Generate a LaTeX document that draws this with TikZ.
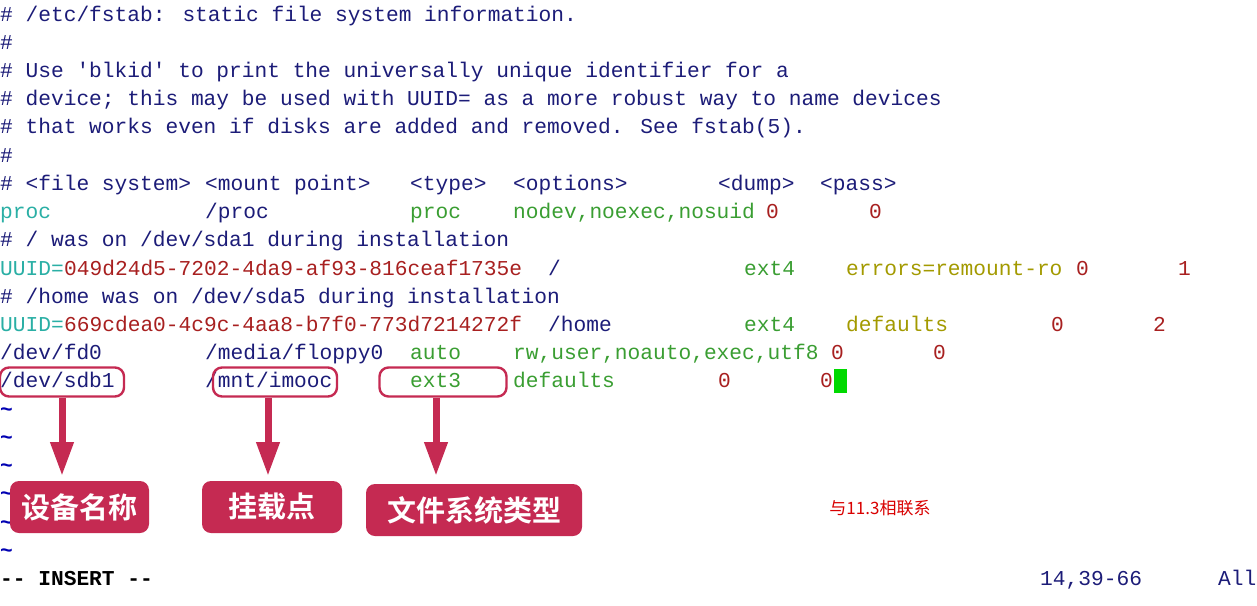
\documentclass[tikz,border=0pt]{standalone}
\usepackage{fontspec}
\usetikzlibrary{arrows.meta}
\newfontfamily\mono[WordSpace={1,0,0}]{Liberation Mono}
\newfontfamily\monob[WordSpace={1,0,0}]{Liberation Mono Bold}
\newfontfamily\cjk[BoldFont={Noto Sans CJK SC Bold}]{Noto Sans CJK SC}
\definecolor{nv}{HTML}{1C1C78}
\definecolor{tl}{HTML}{2AAFA5}
\definecolor{gr}{HTML}{3A9E32}
\definecolor{rd}{HTML}{A82020}
\definecolor{ol}{HTML}{A39A00}
\definecolor{cr}{HTML}{C52A52}
\newcounter{segc}
\newcommand{\seg}[4]{\stepcounter{segc}\node[txt,text=#3] (s\arabic{segc}) at (#1,{-(21+28.23*#2)}) {#4};}
\begin{document}
\begin{tikzpicture}[x=1pt,y=1pt,
  txt/.style={anchor=base west,inner sep=0,font=\mono\fontsize{21.2}{24}\selectfont},
  ring/.style={draw=cr,line width=2.4pt,rounded corners=9pt,minimum height=29pt,inner sep=0},
  lab/.style={fill=cr,rounded corners=9pt,text=white,font=\cjk\bfseries\fontsize{29}{32}\selectfont,inner sep=0,minimum height=52pt},
  arr/.style={draw=cr,line width=7pt,-{Triangle[width=22pt,length=34pt]}}]
\useasboundingbox[fill=white] (0,0) rectangle (1257,-605);
\seg{0}{0}{nv}{\# /etc/fstab: static file system information.}
\seg{0}{1}{nv}{\#}
\seg{0}{2}{nv}{\# Use 'blkid' to print the universally unique identifier for a}
\seg{0}{3}{nv}{\# device; this may be used with UUID= as a more robust way to name devices}
\seg{0}{4}{nv}{\# that works even if disks are added and removed. See fstab(5).}
\seg{0}{5}{nv}{\#}
\seg{0}{6}{nv}{\# <file system>}
\seg{205}{6}{nv}{<mount point>}
\seg{410}{6}{nv}{<type>}
\seg{513}{6}{nv}{<options>}
\seg{718}{6}{nv}{<dump>}
\seg{820}{6}{nv}{<pass>}
\seg{0}{7}{tl}{proc}
\seg{205}{7}{nv}{/proc}
\seg{410}{7}{gr}{proc}
\seg{513}{7}{gr}{nodev,noexec,nosuid}
\seg{766}{7}{rd}{0}
\seg{869}{7}{rd}{0}
\seg{0}{8}{nv}{\# / was on /dev/sda1 during installation}
\seg{0}{9}{tl}{UUID=}
\seg{64}{9}{rd}{049d24d5-7202-4da9-af93-816ceaf1735e}
\seg{548}{9}{nv}{/}
\seg{744}{9}{gr}{ext4}
\seg{846}{9}{ol}{errors=remount-ro}
\seg{1076}{9}{rd}{0}
\seg{1178}{9}{rd}{1}
\seg{0}{10}{nv}{\# /home was on /dev/sda5 during installation}
\seg{0}{11}{tl}{UUID=}
\seg{64}{11}{rd}{669cdea0-4c9c-4aa8-b7f0-773d7214272f}
\seg{548}{11}{nv}{/home}
\seg{744}{11}{gr}{ext4}
\seg{846}{11}{ol}{defaults}
\seg{1051}{11}{rd}{0}
\seg{1153}{11}{rd}{2}
\seg{0}{12}{nv}{/dev/fd0}
\seg{205}{12}{nv}{/media/floppy0}
\seg{410}{12}{gr}{auto}
\seg{513}{12}{gr}{rw,user,noauto,exec,utf8}
\seg{831}{12}{rd}{0}
\seg{933}{12}{rd}{0}
\seg{0}{13}{nv}{/dev/sdb1}
\seg{205}{13}{nv}{/mnt/imooc}
\seg{410}{13}{gr}{ext3}
\seg{513}{13}{gr}{defaults}
\seg{718}{13}{rd}{0}
\seg{820}{13}{rd}{0}
\node[fill=green!85!black,minimum width=13pt,minimum height=24pt,inner sep=0] (cur) at (840,-381) {};
\foreach \r in {14,...,19} {\node[txt,text=blue!70!black,font=\monob\fontsize{21.2}{24}\selectfont] (t\r) at (0,{-(21+28.23*\r)}) {\~{}};}
\node[txt,text=black,font=\monob\fontsize{21.2}{24}\selectfont] (ins) at (0,{-(21+28.23*20)}) {-- INSERT --};
\seg{1040}{20}{nv}{14,39-66}
\seg{1218}{20}{nv}{All}
\node[text=red!85!black,font=\cjk\fontsize{17}{19}\selectfont,inner sep=0] (note) at (880,-508) {与11.3相联系};
% rings
\node[ring,minimum width=124pt] (r1) at (62,-382) {};
\node[ring,minimum width=124pt] (r2) at (275,-382) {};
\node[ring,minimum width=127pt] (r3) at (443,-382) {};
% labels
\node[lab,minimum width=139pt] (l1) at (79.5,-507) {设备名称};
\node[lab,minimum width=140pt] (l2) at (272,-507) {挂载点};
\node[lab,minimum width=216pt] (l3) at (474,-510) {文件系统类型};
\draw[arr] (r1.south -| 62,0) -- (62,-476);
\draw[arr] (r2.south -| 268,0) -- (268,-476);
\draw[arr] (r3.south -| 436,0) -- (436,-476);
\end{tikzpicture}
\end{document}
